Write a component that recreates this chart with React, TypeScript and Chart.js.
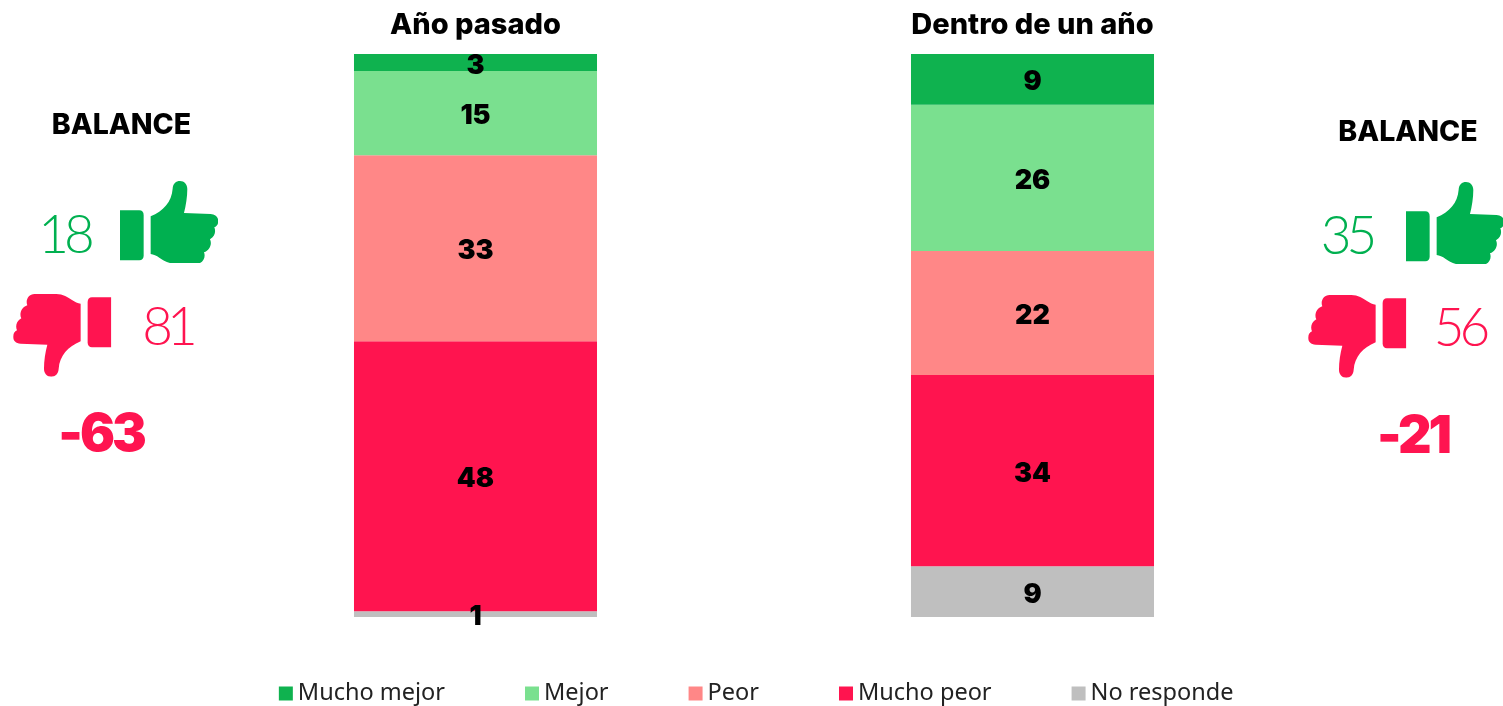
import React, { useEffect, useRef } from "react";
import { Chart, registerables } from "chart.js";

Chart.register(...registerables);

const categories = ["Año pasado", "Dentro de un año"];
const muchoMejor = [3, 9];
const mejor = [15, 26];
const peor = [33, 22];
const muchoPeor = [48, 34];
const noResponde = [1, 9];
const seriesNames = ["Mucho mejor", "Mejor", "Peor", "Mucho peor", "No responde"];
const seriesColors = ["#0FB24F", "#7AE08F", "#FF8787", "#FF144F", "#BFBFBF"];
const seriesValues = [muchoMejor, mejor, peor, muchoPeor, noResponde];

const balanceTitle = "BALANCE";
const positives = ["18", "35"];
const negatives = ["81", "56"];
const balances = ["-63", "-21"];

const GREEN = "#00B050";
const RED = "#FF1450";
const FONT = "Lato, sans-serif";
const HEAVY = "Inter, sans-serif";
const LEGEND = "'Noto Sans', sans-serif";

const labelPlugin = {
  id: "barValues",
  afterDatasetsDraw(chart: any) {
    const { ctx } = chart;
    ctx.save();
    ctx.font = `900 27px ${HEAVY}`;
    ctx.fillStyle = "#000";
    ctx.textAlign = "center";
    ctx.textBaseline = "middle";
    chart.data.datasets.forEach((ds: any, i: number) => {
      chart.getDatasetMeta(i).data.forEach((bar: any, j: number) => {
        const p = bar.getProps(["x", "y", "base"], true);
        ctx.fillText(String(ds.data[j]), p.x, (p.y + p.base) / 2 + 3);
      });
    });
    ctx.restore();
  },
};

const legendPlacement = {
  id: "legendPlacement",
  afterLayout(chart: any) {
    const lg = chart.legend;
    lg.top = 595;
    lg.left += 8;
    lg.right += 8;
  },
};

function Thumb({ x, y, color, down }: { x: number; y: number; color: string; down?: boolean }) {
  return (
    <svg
      width={98.3}
      height={82.7}
      viewBox="360 272 295 248"
      style={{
        position: "absolute",
        left: x,
        top: y,
        transform: down ? "rotate(180deg)" : undefined,
      }}
    >
      <path
        fill={color}
        d="M452 378 C490 362 515 335 518 295 C519 280 528 272 540 272 C553 272 562 282 562 296 C562 320 558 345 552 368 L632 371 C646 372 655 380 655 392 C655 401 650 408 643 411 C648 422 646 438 630 447 C637 460 630 480 612 486 C618 500 610 520 590 520 L525 520 C505 520 490 510 478 502 C470 496 460 492 452 491 Z"
      />
      <path
        fill={color}
        d="M360 360 L418 360 C426 360 431 366 431 374 L431 496 C431 504 426 510 418 510 L360 510 Z"
      />
    </svg>
  );
}

function Txt({
  x,
  y,
  size,
  weight,
  color,
  family = FONT,
  spacing = 0,
  children,
}: {
  x: number;
  y: number;
  size: number;
  weight: number;
  color: string;
  family?: string;
  spacing?: number;
  children: React.ReactNode;
}) {
  return (
    <span
      style={{
        position: "absolute",
        left: x,
        top: y,
        transform: "translate(-50%, -50%)",
        fontFamily: family,
        fontSize: size,
        fontWeight: weight,
        letterSpacing: spacing,
        color,
        lineHeight: 1,
        whiteSpace: "nowrap",
      }}
    >
      {children}
    </span>
  );
}

const insetAxis = (position: string, width: number) => ({
  display: true,
  position,
  grid: { display: false, drawTicks: false },
  border: { display: false },
  ticks: { display: false },
  afterFit: (s: any) => {
    s.width = width;
  },
});

export default function App() {
  const ref = useRef<HTMLCanvasElement>(null);

  useEffect(() => {
    const chart = new Chart(ref.current as HTMLCanvasElement, {
      type: "bar",
      data: {
        labels: categories,
        datasets: seriesNames.map((name, i) => ({
          label: name,
          data: seriesValues[i],
          backgroundColor: seriesColors[i],
          borderWidth: 0,
          barPercentage: 0.4363,
          categoryPercentage: 1,
        })),
      },
      options: {
        animation: false,
        responsive: false,
        events: [],
        layout: { padding: 0 },
        scales: {
          x: {
            position: "top",
            stacked: true,
            grid: { display: false, drawTicks: false },
            border: { display: false },
            afterFit: (s: any) => {
              s.height = 54;
            },
            ticks: {
              color: "#000",
              font: { family: HEAVY, size: 29, weight: 800 },
              padding: 11,
              maxRotation: 0,
            },
          },
          y: {
            ...insetAxis("left", 197),
            stacked: true,
            min: 0,
            max: 100,
            reverse: true,
          },
          yRight: insetAxis("right", 192),
        },
        plugins: {
          title: { display: false },
          tooltip: { enabled: false },
          legend: {
            position: "bottom",
            maxHeight: 89,
            labels: {
              usePointStyle: true,
              pointStyle: "rect",
              boxWidth: 0.5,
              boxHeight: 14,
              padding: 86.75,
              color: "#222",
              font: { family: LEGEND, size: 23.5 },
            },
          },
        },
      } as any,
      plugins: [labelPlugin, legendPlacement],
    });
    return () => chart.destroy();
  }, []);

  return (
    <div style={{ position: "absolute", left: 0, top: 0, width: 1503, height: 706, overflow: "hidden", background: "#fff" }}>
      <canvas ref={ref} width={1503} height={706} style={{ display: "block" }} />

      <Txt x={121.5} y={124} size={28.5} weight={800} family={HEAVY} color="#000">{balanceTitle}</Txt>
      <Txt x={64} y={232} size={53} weight={300} spacing={-5} color={GREEN}>{positives[0]}</Txt>
      <Thumb x={120} y={180.7} color={GREEN} />
      <Thumb x={13.3} y={294.2} color={RED} down />
      <Txt x={167} y={324} size={53} weight={300} spacing={-6} color={RED}>{negatives[0]}</Txt>
      <Txt x={101} y={433} size={52} weight={900} family={HEAVY} spacing={-3} color={RED}>{balances[0]}</Txt>

      <Txt x={1408} y={131} size={28.5} weight={800} family={HEAVY} color="#000">{balanceTitle}</Txt>
      <Txt x={1346.5} y={233} size={53} weight={300} spacing={-5} color={GREEN}>{positives[1]}</Txt>
      <Thumb x={1406} y={181.7} color={GREEN} />
      <Thumb x={1308} y={295} color={RED} down />
      <Txt x={1459.5} y={325} size={53} weight={300} spacing={-5} color={RED}>{negatives[1]}</Txt>
      <Txt x={1413} y={435} size={52} weight={900} family={HEAVY} spacing={-3} color={RED}>{balances[1]}</Txt>
    </div>
  );
}
